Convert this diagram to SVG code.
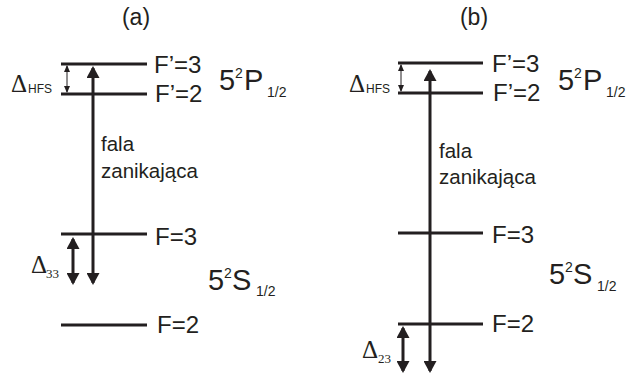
<svg xmlns="http://www.w3.org/2000/svg" width="629" height="380" viewBox="0 0 629 380">
<style>
.lvl{stroke:#231f20;stroke-width:2.8;fill:none}
.arr{stroke:#231f20;stroke-width:3;fill:none;marker-start:url(#ah);marker-end:url(#ah)}
.thin{stroke:#231f20;stroke-width:1;fill:none;marker-start:url(#sh);marker-end:url(#sh)}
.t{font-family:"Liberation Sans",Arial,sans-serif;fill:#231f20}
.s{font-family:"Liberation Serif","Times New Roman",serif;fill:#231f20}
.lab{font-size:24px}
.big{font-size:29px}
.sm{font-size:14px}
.fz{font-size:20.5px}
.dl{font-size:25px}
</style>
<defs>
<marker id="ah" viewBox="0 0 12 13" markerWidth="12" markerHeight="13" refX="10" refY="6.5" orient="auto-start-reverse" markerUnits="userSpaceOnUse">
<path d="M0,0 L12,6.5 L0,13 z" fill="#231f20"/>
</marker>
<marker id="sh" viewBox="0 0 7 6" markerWidth="7" markerHeight="6" refX="6" refY="3" orient="auto-start-reverse" markerUnits="userSpaceOnUse">
<path d="M0,0 L7,3 L0,6 z" fill="#231f20"/>
</marker>
</defs>

<text class="t" x="136" y="25" font-size="23" text-anchor="middle">(a)</text>
<text class="t" x="474" y="25" font-size="23" text-anchor="middle">(b)</text>

<!-- panel a -->
<g id="a-Fp3"><line class="lvl" x1="61" y1="64" x2="147" y2="64"/><text class="t lab" x="154" y="73">F’=3</text></g>
<g id="a-Fp2"><line class="lvl" x1="61" y1="94" x2="147" y2="94"/><text class="t lab" x="155" y="102">F’=2</text></g>
<g id="a-F3"><line class="lvl" x1="61" y1="234" x2="147" y2="234"/><text class="t lab" x="155" y="245">F=3</text></g>
<g id="a-F2"><line class="lvl" x1="61" y1="325" x2="147" y2="325"/><text class="t lab" x="157" y="333">F=2</text></g>
<g id="a-P"><text class="t"><tspan class="big" x="219" y="90">5</tspan><tspan class="sm" x="235" y="78">2</tspan><tspan class="big" x="244" y="90">P</tspan><tspan class="sm" x="267" y="97">1/2</tspan></text></g>
<g id="a-S"><text class="t"><tspan class="big" x="208" y="290">5</tspan><tspan class="sm" x="224" y="278">2</tspan><tspan class="big" x="232" y="290">S</tspan><tspan class="sm" x="256" y="296">1/2</tspan></text></g>
<g id="a-hfs"><text class="s dl" x="11" y="92">Δ</text><text class="t" x="28" y="93" font-size="12">HFS</text></g>
<g id="a-d33"><text class="s dl" x="31" y="273">Δ</text><text class="s" x="46" y="278" font-size="13">33</text></g>
<g id="a-fala"><text class="t fz" x="101" y="151">fala</text><text class="t fz" x="101" y="178">zanikająca</text></g>

<!-- panel b -->
<g id="b-Fp3"><line class="lvl" x1="398" y1="63" x2="483" y2="63"/><text class="t lab" x="492" y="72">F’=3</text></g>
<g id="b-Fp2"><line class="lvl" x1="398" y1="93" x2="483" y2="93"/><text class="t lab" x="493" y="101">F’=2</text></g>
<g id="b-F3"><line class="lvl" x1="398" y1="233" x2="483" y2="233"/><text class="t lab" x="492" y="243">F=3</text></g>
<g id="b-F2"><line class="lvl" x1="398" y1="324" x2="483" y2="324"/><text class="t lab" x="492" y="332">F=2</text></g>
<g id="b-P"><text class="t"><tspan class="big" x="558" y="90">5</tspan><tspan class="sm" x="574" y="78">2</tspan><tspan class="big" x="583" y="90">P</tspan><tspan class="sm" x="606" y="97">1/2</tspan></text></g>
<g id="b-S"><text class="t"><tspan class="big" x="549" y="284">5</tspan><tspan class="sm" x="565" y="272">2</tspan><tspan class="big" x="573" y="284">S</tspan><tspan class="sm" x="597" y="291">1/2</tspan></text></g>
<g id="b-hfs"><text class="s dl" x="349" y="92">Δ</text><text class="t" x="366" y="93" font-size="12">HFS</text></g>
<g id="b-d23"><text class="s dl" x="362" y="358">Δ</text><text class="s" x="378" y="363" font-size="13">23</text></g>
<g id="b-fala"><text class="t fz" x="439" y="158">fala</text><text class="t fz" x="439" y="184">zanikająca</text></g>

<g id="connectors">
<line class="arr" x1="93" y1="68" x2="93" y2="283"/>
<line class="arr" x1="73" y1="239" x2="73" y2="283"/>
<line class="thin" x1="67" y1="66" x2="67" y2="92"/>
<line class="arr" x1="430" y1="71" x2="430" y2="371"/>
<line class="arr" x1="403" y1="328" x2="403" y2="371"/>
<line class="thin" x1="401" y1="65" x2="401" y2="91"/>
</g>
</svg>
